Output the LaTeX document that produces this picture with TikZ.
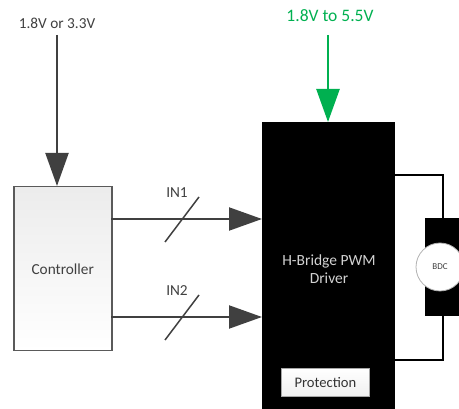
\documentclass[tikz,border=0pt]{standalone}
\usepackage{fontspec}
\setmainfont{Carlito}
\usetikzlibrary{arrows.meta}
\definecolor{lgray}{HTML}{404040}
\definecolor{bgray}{HTML}{5A5A5A}
\definecolor{vgreen}{HTML}{00B050}
\tikzset{
  x=1pt,y=-1pt,
  feed/.style={line width=2pt,-{Triangle[length=33pt,width=23pt]}},
  lbl/.style={font=\fontsize{15.3}{17}\selectfont,text=lgray,inner sep=0pt},
  wire/.style={line width=2pt,black},
  slash/.style={line width=1.5pt,lgray}
}
\begin{document}
\begin{tikzpicture}
\useasboundingbox (0,0) rectangle (459,409);
\clip (0,0) rectangle (459,409);
% labels and supplies
\node[lbl] (v1) at (57,23) {1.8V or 3.3V};
\node[inner sep=0pt,font=\fontsize{17.5}{20}\selectfont,text=vgreen] (v2) at (330,16) {1.8V to 5.5V};
% controller
\node[draw=bgray,line width=1.5pt,top color=gray!15,bottom color=white,minimum width=98pt,minimum height=164pt,inner sep=0pt,anchor=north west] (ctl) at (13,186) {};
\node[lbl] (ctltext) at (ctl.center) {Controller};
% driver
\node[fill=black,minimum width=133pt,minimum height=300pt,inner sep=0pt,anchor=north west] (drv) at (262,122) {};
\node[lbl,text=gray!35,align=center,font=\fontsize{15.5}{18}\selectfont] (drvtext) at (329,269) {H-Bridge PWM\\Driver};
\node[draw=gray!70,line width=0.8pt,top color=white,bottom color=gray!12,minimum width=88pt,minimum height=28pt,inner sep=0pt,anchor=north west] (prot) at (281,368) {};
\node[lbl,text=lgray!80!black,font=\fontsize{14.6}{17}\selectfont] (prottext) at (prot.center) {Protection};
% motor
\node[fill=black,minimum width=40pt,minimum height=98pt,inner sep=0pt,anchor=north west] (mot) at (425,218) {};
\node[circle,draw=gray!60,line width=0.8pt,fill=white,minimum size=48pt,inner sep=0pt] (bdc) at (440,267) {};
\node[inner sep=0pt,font=\fontsize{9}{10}\selectfont,text=lgray] (bdctext) at (bdc.center) {BDC};
\coordinate (wt) at (443,175);
\coordinate (wb) at (443,360);
\draw[wire] (drv.north east |- wt) -- (wt) -- (wt |- mot.north);
\draw[wire] (wb |- mot.south) -- (wb) -- (drv.north east |- wb);
% supply arrows
\coordinate (s1) at (57,35);
\coordinate (s2) at (328,35);
\draw[feed,lgray] (s1) -- (s1 |- ctl.north);
\draw[feed,vgreen,line width=2.5pt] (s2) -- (s2 |- drv.north);
% signal arrows
\coordinate (a1) at (111,219);
\coordinate (a2) at (111,317);
\draw[feed,lgray] (a1) -- (a1 -| drv.west);
\draw[feed,lgray] (a2) -- (a2 -| drv.west);
\coordinate (k1a) at (165,242);
\coordinate (k1b) at (199,197);
\coordinate (k2a) at (165,340);
\coordinate (k2b) at (199,295);
\draw[slash] (k1a) -- (k1b);
\draw[slash] (k2a) -- (k2b);
\node[lbl] (in1) at (177,193) {IN1};
\node[lbl] (in2) at (177,291) {IN2};
\end{tikzpicture}
\end{document}
